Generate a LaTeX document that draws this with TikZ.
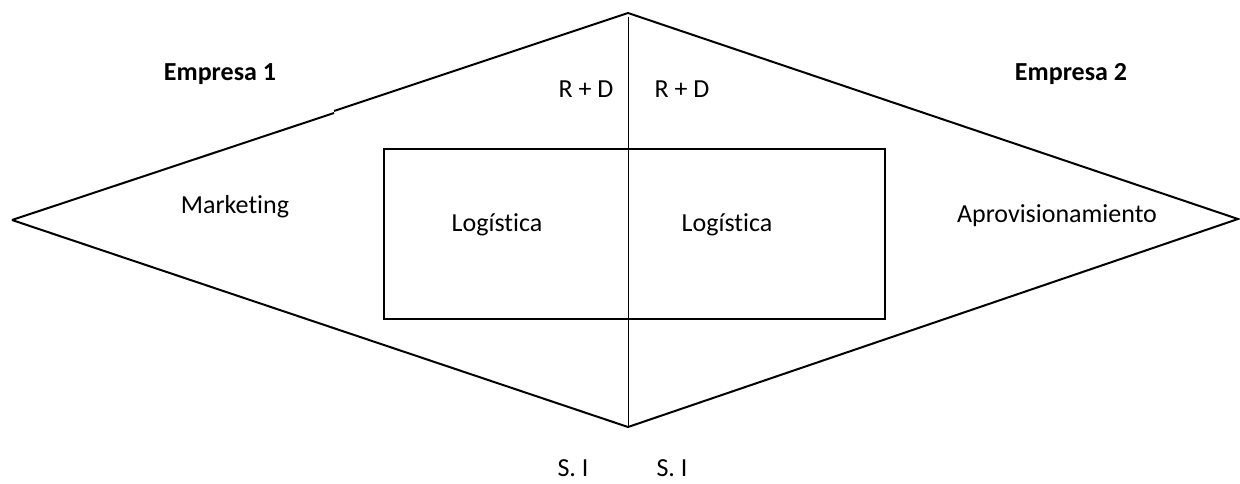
\documentclass[tikz,border=0pt]{standalone}
\usepackage{fontspec}
\setmainfont{Carlito}[Ligatures=CommonOff]
\begin{document}
\begin{tikzpicture}[x=1pt,y=-1pt,
  lbl/.style={inner sep=0pt,anchor=base,font=\fontsize{26}{30}\selectfont},
  blbl/.style={lbl,font=\fontsize{26}{30}\selectfont\bfseries},
  edge/.style={line width=2pt,line join=miter},
  thin/.style={line width=1pt}]
\useasboundingbox (0,0) rectangle (1240,483);
% diamond corners
\coordinate (L) at (12,220);
\coordinate (T) at (628,13);
\coordinate (R) at (1238,219);
\coordinate (B) at (628,427);
\coordinate (J1) at (334,113);
\coordinate (J2) at (334,111);
\coordinate (Vt) at (628,17);
\draw[edge] (L) -- (J1);
\draw[edge] (J2) -- (T) -- (R) -- (B) -- (L);
\draw[thin] (Vt) -- (B);
% central box
\node[draw,line width=2pt,minimum width=501pt,minimum height=170pt,inner sep=0pt] (box) at (634.5,234) {};
% labels
\node[blbl] (e1) at (220,80) {Empresa 1};
\node[blbl] (e2) at (1071,80) {Empresa 2};
\node[lbl] (rd1) at (586,97) {R + D};
\node[lbl] (rd2) at (682,97) {R + D};
\node[lbl] (mk) at (235,213) {Marketing};
\node[lbl] (lg1) at (497,231) {Logística};
\node[lbl] (lg2) at (727,231) {Logística};
\node[lbl] (ap) at (1057,222) {Aprovisionamiento};
\node[lbl] (si1) at (573,476) {S. I};
\node[lbl] (si2) at (672,476) {S. I};
\end{tikzpicture}
\end{document}
